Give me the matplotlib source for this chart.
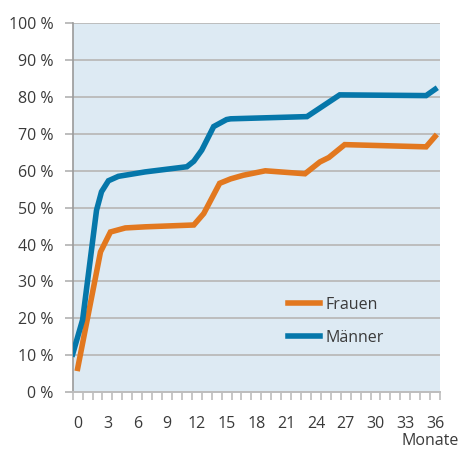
import numpy as np
import matplotlib.pyplot as plt
from matplotlib.ticker import FixedLocator, FuncFormatter

# Anteil in Prozent nach Monaten
maenner_x = [-0.5, 0.5, 1.9, 2.4, 3.1, 4.1, 6.8, 11.0, 11.7, 12.5, 13.7, 15.0, 15.4, 23.1, 26.4, 35.1, 36.0]
maenner_y = [10.3, 19.6, 49.3, 54.3, 57.3, 58.5, 59.7, 61.1, 62.6, 65.6, 72.0, 73.9, 74.1, 74.7, 80.6, 80.4, 82.1]

frauen_x = [0.0, 2.3, 3.3, 4.8, 6.8, 11.7, 12.7, 14.3, 15.4, 16.7, 18.9, 22.9, 24.4, 25.3, 26.9, 35.1, 36.0]
frauen_y = [6.4, 38.0, 43.4, 44.5, 44.8, 45.3, 48.4, 56.6, 57.8, 58.8, 60.0, 59.2, 62.4, 63.6, 67.1, 66.5, 69.3]

x_ticks = list(range(0, 37, 3))
y_ticks = list(range(0, 101, 10))

blau = '#0577aa'
orange = '#e2781f'
grau = '#bdbdbd'
text_c = '#3a3a3a'

plt.rcParams['font.family'] = ['Open Sans', 'DejaVu Sans']

fig = plt.figure(figsize=(4.59, 4.49), dpi=100)
ax = fig.add_axes([0.1584, 0.127, 0.8002, 0.821])
ax.set_facecolor('#ddeaf3')

ax.plot(frauen_x, frauen_y, color=orange, lw=4.0, label='Frauen', solid_joinstyle='miter', zorder=3)
ax.plot(maenner_x, maenner_y, color=blau, lw=4.0, label='Männer', solid_joinstyle='miter', zorder=3)

ax.set_xlim(-0.5, 36.5)
ax.set_ylim(0, 100)

ax.set_yticks(y_ticks)
ax.yaxis.set_major_formatter(FuncFormatter(lambda v, p: f'{int(v)} %'))
ax.set_xticks(x_ticks)
ax.xaxis.set_minor_locator(FixedLocator(np.arange(-0.5, 37, 1)))
ax.grid(axis='y', color=grau, lw=1.4, zorder=1)

ax.tick_params(axis='x', which='major', length=0, pad=17, labelsize=11.5, labelcolor=text_c)
ax.tick_params(axis='x', which='minor', length=6, width=1.2, color=grau)
ax.tick_params(axis='y', length=6, width=1.4, color=grau, pad=8, labelsize=11.5, labelcolor=text_c)

for s in ['top', 'right']:
    ax.spines[s].set_visible(False)
ax.spines['left'].set_color('#9a9a9a')
ax.spines['left'].set_linewidth(1.2)
ax.spines['bottom'].set_color(grau)
ax.spines['bottom'].set_linewidth(1.4)

leg = ax.legend(loc='lower left', bbox_to_anchor=(0.546, 0.087), frameon=False,
                fontsize=11.5, handlelength=2.0, handletextpad=0.4, labelspacing=1.05)
for t in leg.get_texts():
    t.set_color(text_c)

fig.text(1.0, 0.0, 'Monate', ha='right', va='bottom', fontsize=11.5, color=text_c)

fig.savefig('out.png', dpi=100)
